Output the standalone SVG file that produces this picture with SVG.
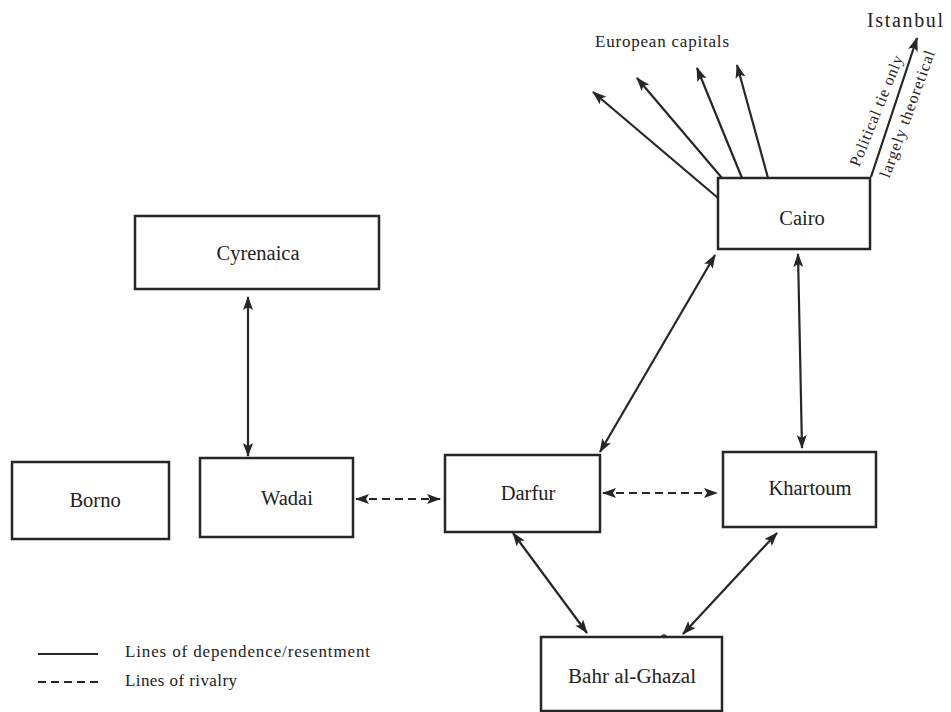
<svg xmlns="http://www.w3.org/2000/svg" width="951" height="712" viewBox="0 0 951 712">
<defs>
<marker id="ah" markerWidth="14" markerHeight="10" refX="13" refY="5" orient="auto-start-reverse" markerUnits="userSpaceOnUse">
<path d="M0,0 L14,5 L0,10 L3,5 z" fill="#262626"/>
</marker>
<style>
.box{fill:#fff;stroke:#262626;stroke-width:2.5}
.lbl{font-family:"Liberation Serif","DejaVu Serif",serif;font-size:20.5px;fill:#222;text-anchor:middle}
.sm{font-family:"Liberation Serif","DejaVu Serif",serif;font-size:17px;fill:#222}
.ln{stroke:#262626;stroke-width:2.2;fill:none}
.arr{marker-end:url(#ah)}
.dbl{marker-start:url(#ah);marker-end:url(#ah)}
.dash{stroke-dasharray:8 5}
</style>
</defs>
<rect width="951" height="712" fill="#fff"/>
<g id="connectors">
<line class="ln arr" x1="718" y1="198" x2="593" y2="92"/>
<line class="ln arr" x1="722" y1="178" x2="637" y2="78"/>
<line class="ln arr" x1="742" y1="178" x2="697" y2="68"/>
<line class="ln arr" x1="768" y1="178" x2="737" y2="65"/>
<line class="ln arr" x1="871" y1="177" x2="917" y2="38"/>
<line class="ln dbl" x1="248" y1="297" x2="248" y2="456"/>
<line class="ln dbl" x1="600" y1="452" x2="715" y2="255"/>
<line class="ln dbl" x1="798" y1="254" x2="802" y2="448"/>
<line class="ln dbl" x1="513" y1="533" x2="587" y2="633"/>
<line class="ln dbl" x1="777" y1="533" x2="683" y2="634"/>
<line class="ln dbl dash" x1="356" y1="499" x2="440" y2="499"/>
<line class="ln dbl dash" x1="603" y1="493" x2="717" y2="493"/>
<circle cx="664" cy="637" r="2.2" fill="#fff" stroke="#262626" stroke-width="1.2"/>
</g>
<g id="cairo"><rect class="box" x="718" y="178" width="152" height="71"/><text class="lbl" x="802" y="225">Cairo</text></g>
<g id="cyrenaica"><rect class="box" x="135" y="216" width="244" height="73"/><text class="lbl" x="258" y="260">Cyrenaica</text></g>
<g id="borno"><rect class="box" x="12" y="462" width="157" height="77"/><text class="lbl" x="95" y="507">Borno</text></g>
<g id="wadai"><rect class="box" x="200" y="458" width="153" height="79"/><text class="lbl" x="287" y="505">Wadai</text></g>
<g id="darfur"><rect class="box" x="445" y="455" width="155" height="77"/><text class="lbl" x="528" y="500">Darfur</text></g>
<g id="khartoum"><rect class="box" x="723" y="452" width="153" height="75"/><text class="lbl" x="810" y="495">Khartoum</text></g>
<g id="bahr"><rect class="box" x="541" y="637" width="181" height="74"/><text class="lbl" x="632" y="683" textLength="128" lengthAdjust="spacingAndGlyphs">Bahr al-Ghazal</text></g>
<g id="european-capitals"><text class="sm" x="595" y="47" textLength="134">European capitals</text></g>
<g id="istanbul"><text class="sm" x="867" y="27" style="font-size:20px" textLength="76">Istanbul</text></g>
<g id="tie-label">
<text class="sm" style="font-size:16px" text-anchor="middle" transform="translate(876.5,111) rotate(-68)" y="5" textLength="118">Political tie only</text>
<text class="sm" style="font-size:16px" text-anchor="middle" transform="translate(907.5,114) rotate(-70)" y="5" textLength="134">largely theoretical</text>
</g>
<g id="legend">
<line class="ln" x1="38" y1="654" x2="98" y2="654"/>
<text class="sm" x="125" y="657" textLength="245">Lines of dependence/resentment</text>
<line class="ln dash" x1="38" y1="682" x2="98" y2="682"/>
<text class="sm" x="125" y="686" textLength="112">Lines of rivalry</text>
</g>
</svg>
